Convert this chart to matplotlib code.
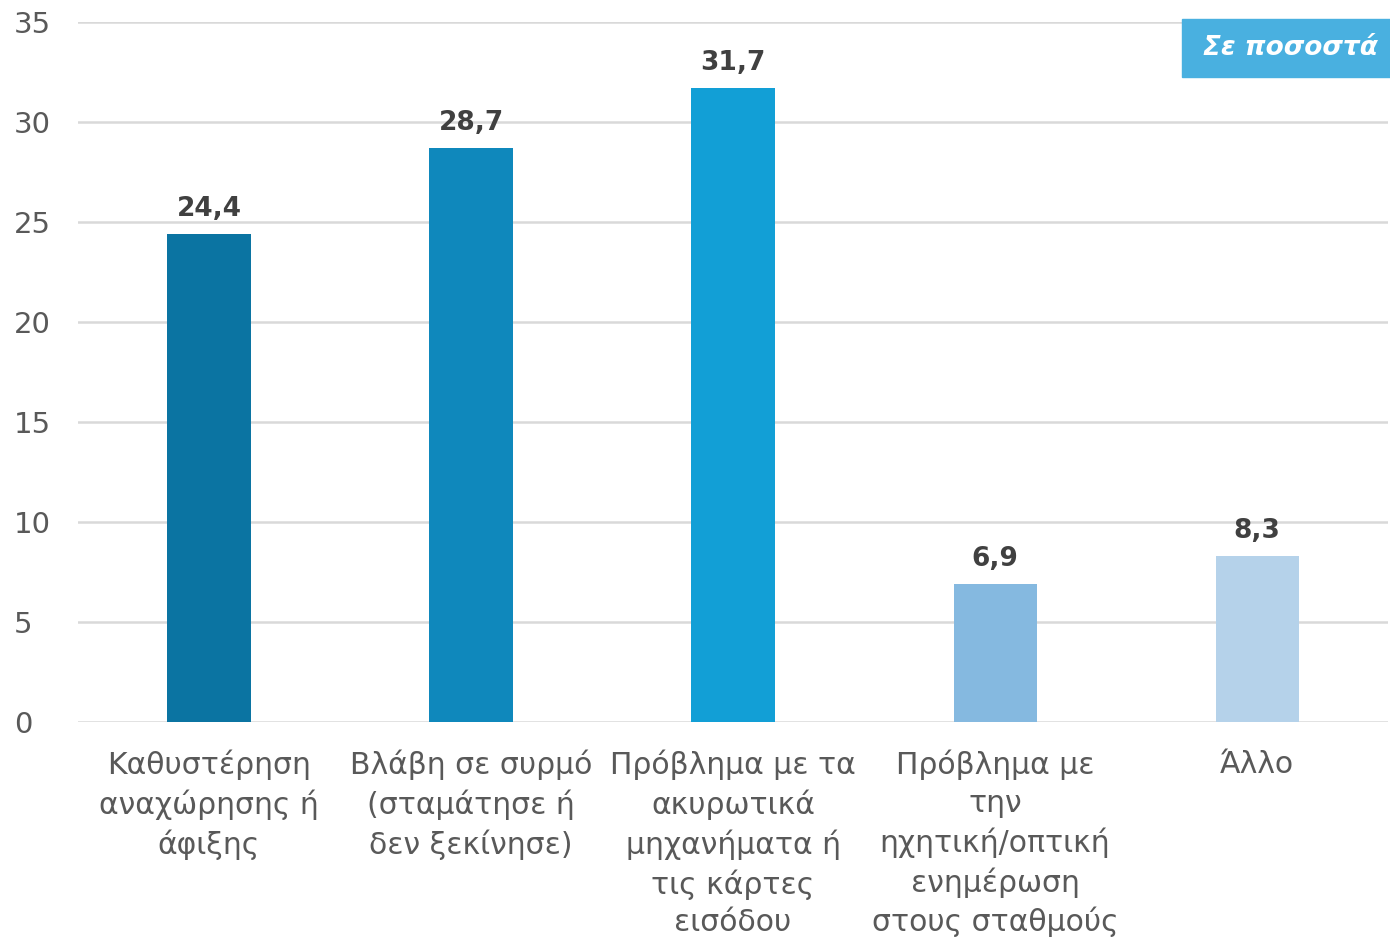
import matplotlib.pyplot as plt
from matplotlib.patches import Rectangle

categories = [
    "Καθυστέρηση\nαναχώρησης ή\nάφιξης",
    "Βλάβη σε συρμό\n(σταμάτησε ή\nδεν ξεκίνησε)",
    "Πρόβλημα με τα\nακυρωτικά\nμηχανήματα ή\nτις κάρτες\nεισόδου",
    "Πρόβλημα με\nτην\nηχητική/οπτική\nενημέρωση\nστους σταθμούς",
    "Άλλο",
]
values = [24.4, 28.7, 31.7, 6.9, 8.3]
value_labels = ["24,4", "28,7", "31,7", "6,9", "8,3"]
bar_colors = ["#0B74A2", "#0F88BC", "#129FD6", "#85B9E0", "#B5D2EA"]
yticks = [0, 5, 10, 15, 20, 25, 30, 35]

plt.rcParams['font.family'] = ['DejaVu Sans']

fig = plt.figure(figsize=(13.9, 9.42), dpi=100)
ax = fig.add_axes([0.0561, 0.2335, 0.9425, 0.7431])

x = range(len(values))
bars = ax.bar(x, values, width=0.317, color=bar_colors, zorder=3)

for b, lab in zip(bars, value_labels):
    ax.annotate(lab, (b.get_x() + b.get_width() / 2, b.get_height()),
                xytext=(0, 9), textcoords="offset points",
                ha="center", va="bottom", fontsize=19, fontweight="bold",
                color="#404040")

ax.set_xlim(-0.5, 4.5)
ax.set_ylim(0, 35)
ax.set_yticks(yticks)
ax.set_yticklabels([str(t) for t in yticks], fontsize=21, color="#595959")
ax.set_xticks(list(x))
ax.set_xticklabels(categories, fontsize=21.5, color="#595959", linespacing=1.38)
ax.tick_params(axis="both", length=0)
ax.tick_params(axis="x", pad=20)
ax.tick_params(axis="y", pad=46)
for lab in ax.get_yticklabels():
    lab.set_horizontalalignment("left")

ax.grid(axis="y", color="#D9D9D9", linewidth=1.8, zorder=0)
for s in ax.spines.values():
    s.set_visible(False)

# "Σε ποσοστά" box in the top right corner
fig.patches.append(Rectangle((1182 / 1390, 1 - 77 / 942), 208 / 1390, 58 / 942,
                             transform=fig.transFigure, color="#49B0E0", zorder=5))
fig.text(1290 / 1390, 1 - 48 / 942, "Σε ποσοστά", ha="center", va="center",
         fontsize=19, fontweight="bold", fontstyle="italic", color="white", zorder=6)

fig.savefig("out.png", dpi=100)
